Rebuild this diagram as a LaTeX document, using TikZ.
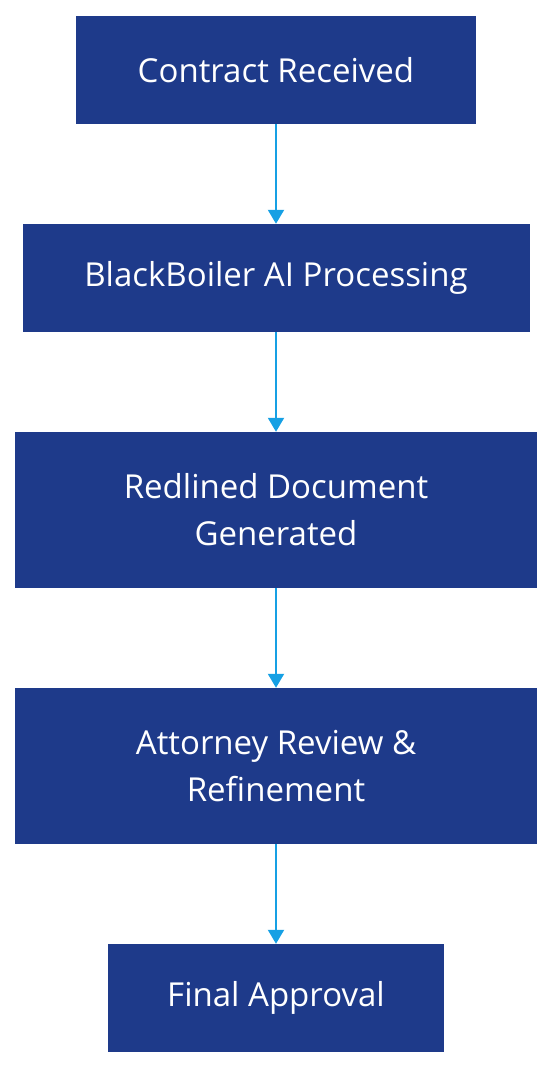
\documentclass[tikz,border=0pt]{standalone}
\usepackage{fontspec}
\setmainfont{Open Sans}
\usetikzlibrary{arrows.meta}
\definecolor{boxblue}{RGB}{30,58,138}
\definecolor{flowcyan}{RGB}{22,160,228}
\tikzset{
  stagebox/.style={fill=boxblue, text=white, inner sep=0pt, align=center,
    font=\fontsize{33}{47}\selectfont},
  flow/.style={draw=flowcyan, line width=2pt, -{Triangle[length=14pt,width=16pt]}}
}
\begin{document}
\begin{tikzpicture}[x=1pt,y=-1pt]
\useasboundingbox (0,0) rectangle (552,1068);
\node [stagebox, minimum width=400pt, minimum height=108pt] (received) at (276,70) {Contract Received};
\node [stagebox, minimum width=507pt, minimum height=108pt] (processing) at (276,278) {BlackBoiler AI Processing};
\node [stagebox, minimum width=522pt, minimum height=156pt] (redline) at (276,510) {Redlined Document\\Generated};
\node [stagebox, minimum width=522pt, minimum height=156pt] (review) at (276,766) {Attorney Review \&\\Refinement};
\node [stagebox, minimum width=336pt, minimum height=108pt] (approval) at (276,998) {Final Approval};
\draw [flow] (received) -- (processing);
\draw [flow] (processing) -- (redline);
\draw [flow] (redline) -- (review);
\draw [flow] (review) -- (approval);
\end{tikzpicture}
\end{document}
